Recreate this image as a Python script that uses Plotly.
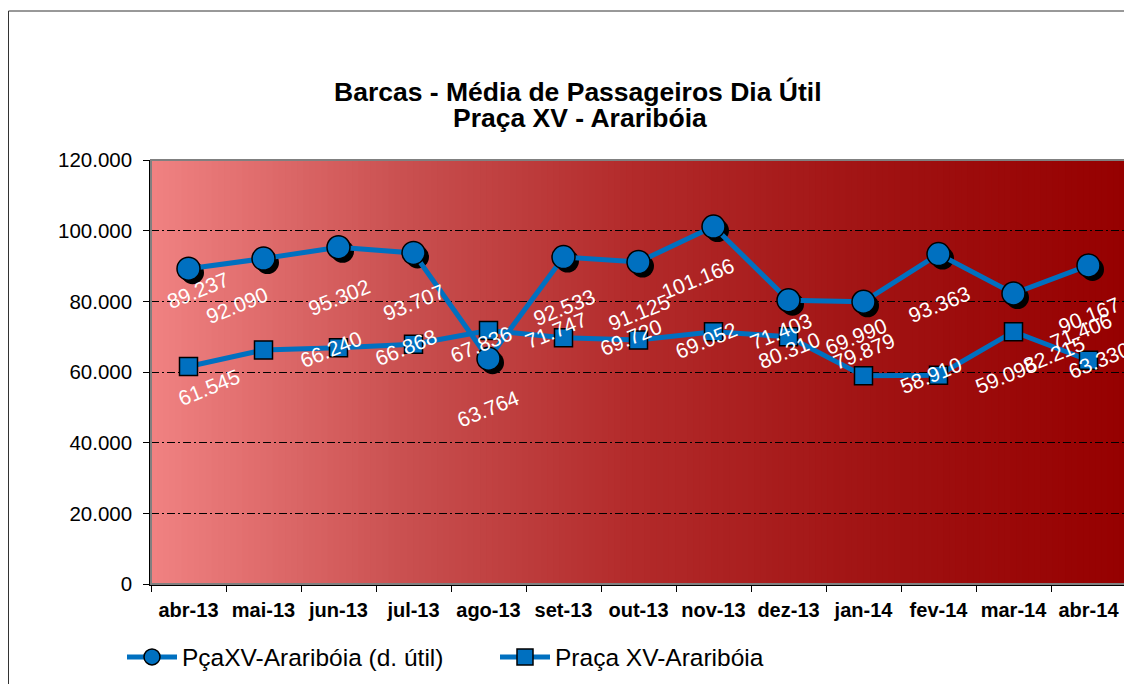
import plotly.graph_objects as go

# ---------------- data ----------------
months = ["abr-13", "mai-13", "jun-13", "jul-13", "ago-13", "set-13", "out-13",
          "nov-13", "dez-13", "jan-14", "fev-14", "mar-14", "abr-14"]
util = [89237, 92090, 95302, 93707, 63764, 92533, 91125,
        101166, 80310, 79879, 93363, 82215, 90167]
praca = [61545, 66240, 66868, 67836, 71747, 69720, 69052,
         71403, 69990, 58910, 59095, 71406, 63330]
y_ticks = [0, 20000, 40000, 60000, 80000, 100000, 120000]
title_line1 = "Barcas - Média de Passageiros Dia Útil"
title_line2 = "Praça XV - Araribóia"
name_util = "PçaXV-Araribóia (d. útil)"
name_praca = "Praça XV-Araribóia"

# ---------------- layout geometry / style ----------------
OFF = 8                      # page body margin of the browser
W, H = 1132 - OFF, 684 - OFF
ML, MR, MT, MB = 151 - OFF, 6, 160 - OFF, 100
PW, PH = W - ML - MR, H - MT - MB
YMAX = 120000
n = len(months)
xr = [-0.5, n - 0.5]
px_x = (xr[1] - xr[0]) / PW
px_y = YMAX / PH
SH = 4  # shadow offset in px
BLUE = "#0070C0"
FONT = "Liberation Sans, Arial, sans-serif"


def px2paper_x(px):          # px: screen pixel
    return (px - OFF - ML) / PW


def px2paper_y(py):          # py: screen pixel
    return (H - MB - (py - OFF)) / PH


def fmt(v):
    return f"{v:,}".replace(",", ".")


fig = go.Figure()

# invisible trace so the base axes (ticks, grid, background) exist
fig.add_trace(go.Scatter(
    x=months, y=praca, mode="lines", line=dict(width=0, color="rgba(0,0,0,0)"),
    showlegend=False, hoverinfo="skip"))

# shadow under circle markers
fig.add_trace(go.Scatter(
    x=months, y=util, mode="markers", xaxis="x2", yaxis="y2",
    marker=dict(symbol="circle", size=23, color="black"),
    showlegend=False, hoverinfo="skip"))

fig.add_trace(go.Scatter(
    x=months, y=util, mode="lines+markers", name=name_util,
    xaxis="x3", yaxis="y3",
    line=dict(color=BLUE, width=5),
    marker=dict(symbol="circle", size=23, color=BLUE,
                line=dict(color="black", width=1.5))))

fig.add_trace(go.Scatter(
    x=months, y=praca, mode="lines+markers", name=name_praca,
    xaxis="x3", yaxis="y3",
    line=dict(color=BLUE, width=5),
    marker=dict(symbol="square", size=18, color=BLUE,
                line=dict(color="black", width=1.5))))

# ---------------- background gradient ----------------
stops = [(0.0, (240, 130, 130)), (0.27, (200, 78, 78)), (0.5, (178, 42, 42)),
         (0.75, (160, 18, 18)), (1.0, (150, 0, 0))]


def grad(t):
    for (t0, c0), (t1, c1) in zip(stops[:-1], stops[1:]):
        if t0 <= t <= t1:
            f = (t - t0) / (t1 - t0)
            return tuple(round(a + (b - a) * f) for a, b in zip(c0, c1))
    return stops[-1][1]


shapes = []
NS = 160
for i in range(NS):
    t0, t1 = i / NS, (i + 1) / NS
    c = grad((t0 + t1) / 2)
    shapes.append(dict(type="rect", xref="x domain", yref="y domain",
                       x0=t0, x1=min(1, t1 + 0.002), y0=0, y1=1, layer="below",
                       line=dict(width=0), fillcolor=f"rgb{c}"))
# plot area border
shapes.append(dict(type="rect", xref="x domain", yref="y domain",
                   x0=0, x1=1, y0=0, y1=1, layer="above",
                   line=dict(color="#808080", width=2)))
# outer chart border
shapes.append(dict(type="rect", xref="paper", yref="paper",
                   x0=px2paper_x(8.5), x1=px2paper_x(1145),
                   y0=px2paper_y(700), y1=px2paper_y(11),
                   line=dict(color="#333333", width=1)))

# ---------------- annotations ----------------
ann = []
ann.append(dict(text=f"<b>{title_line1}</b>", xref="paper", yref="paper",
                x=px2paper_x(578), y=px2paper_y(92), showarrow=False,
                xanchor="center", yanchor="middle",
                font=dict(family=FONT, size=26.5, color="black")))
ann.append(dict(text=f"<b>{title_line2}</b>", xref="paper", yref="paper",
                x=px2paper_x(580), y=px2paper_y(118), showarrow=False,
                xanchor="center", yanchor="middle",
                font=dict(family=FONT, size=26.5, color="black")))

# label offsets (px, right / down) per series, with a few Excel-like exceptions
util_off = (0, 50)
util_exc = {0: (9, 22), 1: (-27, 47), 7: (-16, 52), 11: (40, 61)}
praca_off = (67, 0)
praca_exc = {0: (20, 21), 12: (10, 0)}

for i, (m, v) in enumerate(zip(months, util)):
    dx, dy = util_exc.get(i, util_off)
    ann.append(dict(text=fmt(v), x=m, y=v, xref="x", yref="y",
                    showarrow=False, textangle=-22, xshift=dx, yshift=-dy,
                    font=dict(family=FONT, size=21, color="white")))
for i, (m, v) in enumerate(zip(months, praca)):
    dx, dy = praca_exc.get(i, praca_off)
    ann.append(dict(text=fmt(v), x=m, y=v, xref="x", yref="y",
                    showarrow=False, textangle=-22, xshift=dx, yshift=-dy,
                    font=dict(family=FONT, size=21, color="white")))

fig.update_layout(
    width=W, height=H,
    margin=dict(l=ML, r=MR, t=MT, b=MB, pad=0, autoexpand=False),
    paper_bgcolor="white", plot_bgcolor="rgba(0,0,0,0)",
    separators=",.",
    font=dict(family=FONT, color="black"),
    shapes=shapes, annotations=ann,
    showlegend=True,
    legend=dict(orientation="h", x=px2paper_x(122), xanchor="left",
                y=px2paper_y(657), yanchor="middle",
                font=dict(family=FONT, size=24.5, color="black"),
                bgcolor="rgba(0,0,0,0)", itemwidth=50,
                entrywidthmode="pixels", entrywidth=308),
    xaxis=dict(type="category", categoryorder="array", categoryarray=months,
               range=xr, tickson="boundaries", ticks="outside", ticklen=6,
               tickcolor="black", showline=True, linecolor="black",
               linewidth=1.5, showgrid=False, zeroline=False,
               ticklabelstandoff=7, tickangle=0, automargin=False,
               tickfont=dict(family=FONT, size=20, color="black",
                             weight="bold")),
    yaxis=dict(range=[0, YMAX], tickvals=y_ticks, tickformat=",d",
               ticks="outside", ticklen=6, tickcolor="black",
               showline=True, linecolor="black", linewidth=1.5,
               showgrid=True, gridcolor="black", gridwidth=1,
               griddash="8px,3px,2px,3px", zeroline=False,
               ticklabelstandoff=7, automargin=False,
               tickfont=dict(family=FONT, size=20.5, color="black")),
    xaxis2=dict(type="category", categoryorder="array", categoryarray=months,
                overlaying="x", anchor="y2",
                range=[xr[0] - SH * px_x, xr[1] - SH * px_x], visible=False),
    yaxis2=dict(overlaying="y", anchor="x2",
                range=[SH * px_y, YMAX + SH * px_y], visible=False),
    xaxis3=dict(type="category", categoryorder="array", categoryarray=months,
                overlaying="x", anchor="y3", range=xr, visible=False),
    yaxis3=dict(overlaying="y", anchor="x3", range=[0, YMAX], visible=False),
)

fig.write_html("out.html")
